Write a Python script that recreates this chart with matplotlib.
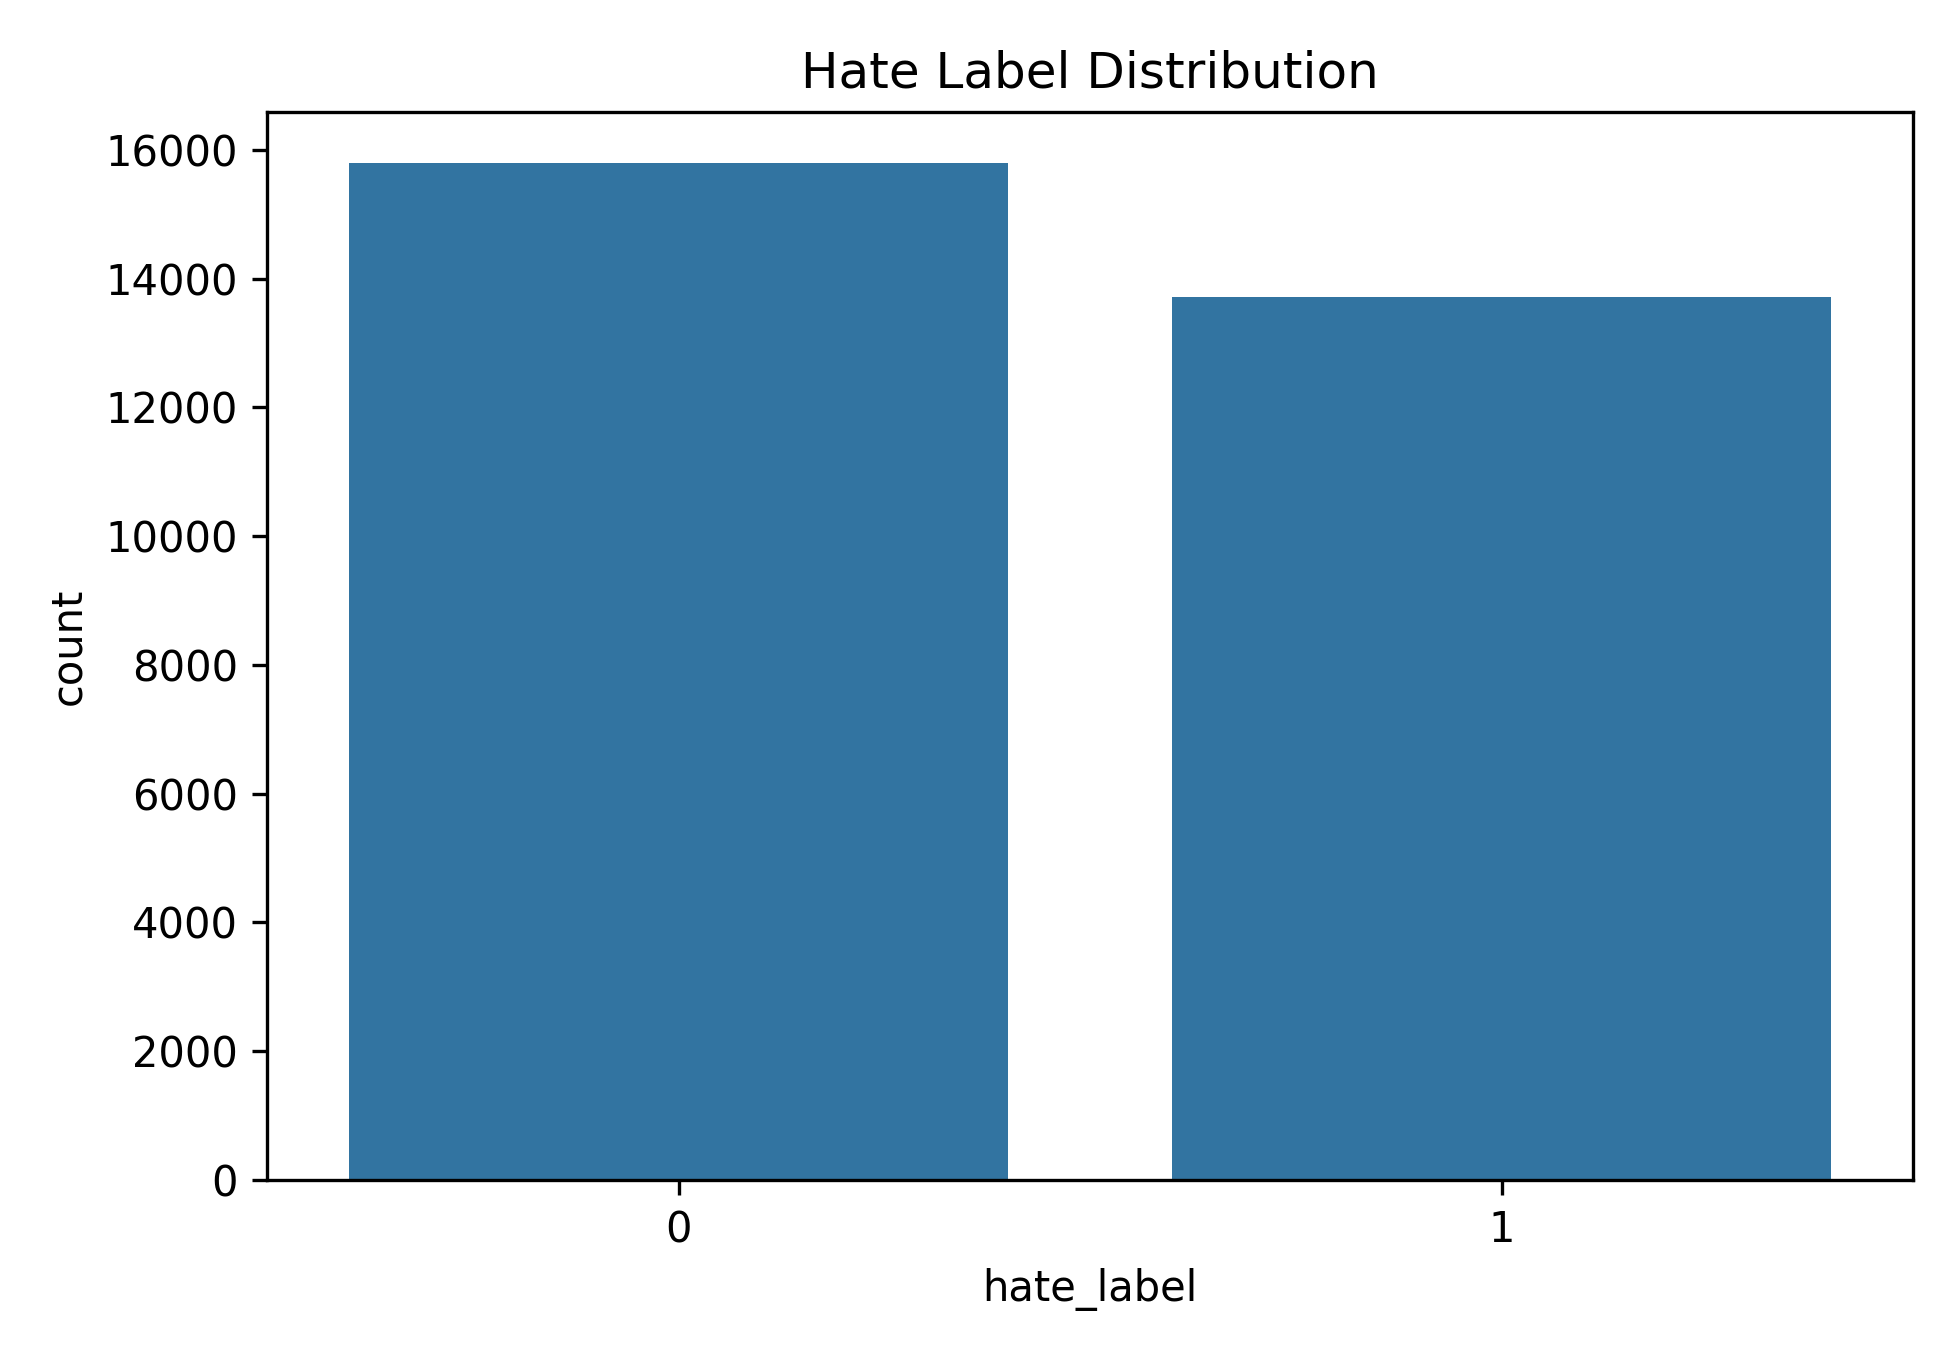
import matplotlib
matplotlib.use('Agg')
import matplotlib.pyplot as plt

# category counts
labels = ['0', '1']
counts = [15800, 13720]

fig, ax = plt.subplots(figsize=(6.5, 4.5), dpi=300)
ax.bar(range(len(labels)), counts, width=0.8, color='#3274a1')
ax.set_xticks(range(len(labels)))
ax.set_xticklabels(labels)
ax.set_xlim(-0.5, 1.5)
ax.set_xlabel('hate_label')
ax.set_ylabel('count')
ax.set_title('Hate Label Distribution')

fig.subplots_adjust(left=0.137, right=0.981, top=0.917, bottom=0.126)
fig.savefig('out.png', dpi=300)
